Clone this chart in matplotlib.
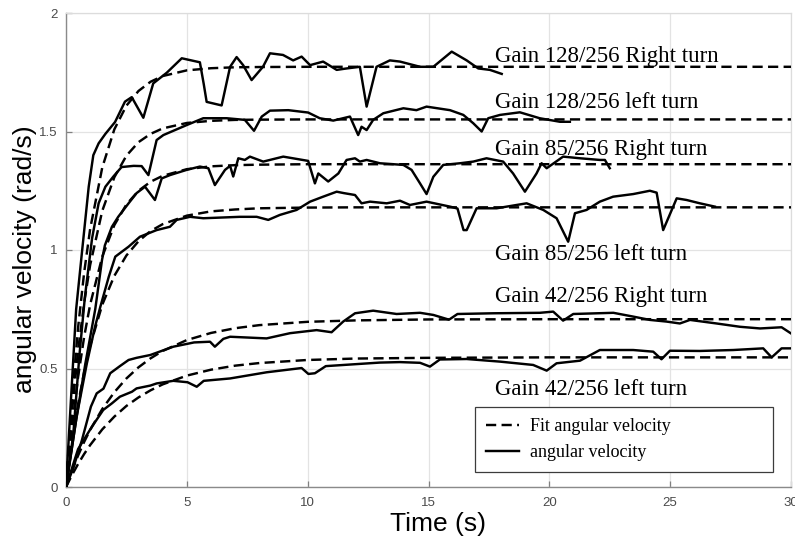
import matplotlib
matplotlib.use("Agg")
import matplotlib.pyplot as plt
from matplotlib.lines import Line2D

# ---- measured angular velocity (time in s, velocity in rad/s) ----
t_128r = [0, 0.2, 0.42, 0.66, 0.94, 1.13, 1.35, 1.63, 2.03, 2.44, 2.72, 3.2, 3.61, 4.17,
          4.79, 5.54, 5.7, 5.82, 6.44, 6.79, 7.06, 7.33, 7.68, 8.15, 8.44, 8.98, 9.4, 9.75,
          10.1, 10.64, 11.2, 11.61, 12.16, 12.44, 12.85, 13.4, 13.82, 14.65, 15.2, 15.96,
          16.58, 17.06, 17.54, 18.03]
w_128r = [0, 0.36, 0.75, 0.99, 1.267, 1.40, 1.45, 1.49, 1.54, 1.626, 1.645, 1.558, 1.703,
          1.748, 1.809, 1.792, 1.70, 1.625, 1.61, 1.773, 1.814, 1.78, 1.717, 1.773, 1.83,
          1.823, 1.80, 1.816, 1.78, 1.795, 1.76, 1.766, 1.773, 1.605, 1.773, 1.80, 1.795,
          1.773, 1.773, 1.837, 1.80, 1.766, 1.76, 1.743]

t_128l = [0, 0.3, 0.55, 0.78, 1.08, 1.35, 1.63, 1.96, 2.3, 2.8, 3.13, 3.41, 3.75, 4.03,
          4.99, 5.68, 6.65, 7.4, 7.78, 8.1, 8.44, 9.2, 10.02, 10.5, 11.06, 11.75, 12.09,
          12.23, 12.44, 12.71, 13.13, 13.96, 14.5, 14.92, 15.89, 16.44, 16.85, 17.2, 17.47,
          17.96, 18.78, 19.6, 20.44, 20.85]
w_128l = [0, 0.22, 0.55, 0.80, 1.05, 1.197, 1.267, 1.31, 1.35, 1.355, 1.354, 1.316, 1.464,
          1.485, 1.527, 1.556, 1.556, 1.549, 1.503, 1.563, 1.588, 1.59, 1.58, 1.556, 1.546,
          1.563, 1.485, 1.52, 1.506, 1.549, 1.577, 1.598, 1.59, 1.605, 1.59, 1.57, 1.535,
          1.50, 1.556, 1.57, 1.581, 1.556, 1.541, 1.541]

t_85r = [0, 0.4, 0.8, 1.21, 1.49, 1.61, 1.9, 2.16, 2.59, 2.92, 3.27, 3.68, 3.96, 4.3, 4.99,
         5.54, 5.89, 6.16, 6.58, 6.79, 6.92, 7.13, 7.4, 7.61, 8.16, 8.99, 10.02, 10.3, 10.44,
         10.85, 11.27, 11.61, 11.96, 12.16, 12.44, 12.99, 13.96, 14.3, 14.65, 14.92, 15.2,
         15.61, 16.3, 16.85, 17.4, 18.09, 18.5, 18.99, 19.47, 19.68, 19.89, 20.57, 21.27,
         22.09, 22.3, 22.5]
w_85r = [0, 0.27, 0.52, 0.75, 0.958, 1.02, 1.098, 1.14, 1.197, 1.24, 1.267, 1.211, 1.302,
         1.316, 1.338, 1.352, 1.345, 1.274, 1.338, 1.355, 1.31, 1.387, 1.38, 1.394, 1.373,
         1.394, 1.376, 1.281, 1.323, 1.289, 1.323, 1.38, 1.387, 1.373, 1.38, 1.366, 1.359,
         1.338, 1.281, 1.236, 1.309, 1.359, 1.366, 1.373, 1.387, 1.373, 1.323, 1.246, 1.323,
         1.366, 1.345, 1.394, 1.387, 1.38, 1.38, 1.345]

t_85l = [0, 0.44, 0.86, 1.2, 1.42, 1.77, 2.04, 2.59, 3.06, 3.75, 4.3, 4.58, 5.13, 5.68, 7.2,
         7.89, 8.37, 8.85, 9.54, 10.1, 10.64, 11.2, 11.5, 11.96, 12.23, 12.58, 13.27, 13.82,
         14.23, 14.92, 15.89, 16.2, 16.45, 16.58, 16.99, 17.82, 19.06, 19.75, 20.3, 20.78,
         21.06, 21.54, 22.09, 22.64, 23.47, 24.16, 24.44, 24.71, 25.27, 25.68, 26.23, 26.85]
w_85l = [0, 0.297, 0.52, 0.676, 0.76, 0.887, 0.972, 1.014, 1.056, 1.084, 1.098, 1.127, 1.14,
         1.134, 1.14, 1.14, 1.127, 1.148, 1.169, 1.204, 1.225, 1.246, 1.24, 1.232, 1.197,
         1.204, 1.197, 1.208, 1.19, 1.204, 1.183, 1.175, 1.084, 1.084, 1.176, 1.176, 1.197,
         1.169, 1.134, 1.035, 1.155, 1.169, 1.204, 1.225, 1.236, 1.25, 1.242, 1.084, 1.218,
         1.211, 1.197, 1.183]

t_42r = [0, 0.3, 0.66, 1.03, 1.27, 1.55, 1.83, 2.23, 2.59, 2.92, 3.49, 4.44, 5.3, 5.96, 6.16,
         6.51, 6.79, 8.3, 9.27, 10.37, 10.99, 11.47, 11.96, 12.71, 13.68, 14.65, 15.2, 15.85,
         16.2, 17.68, 19.61, 20.16, 20.57, 20.99, 22.65, 23.47, 24.16, 24.85, 25.4, 25.82,
         26.92, 27.89, 28.72, 29.61, 30]
w_42r = [0, 0.08, 0.198, 0.339, 0.395, 0.415, 0.48, 0.51, 0.536, 0.545, 0.557, 0.592, 0.61,
         0.613, 0.592, 0.625, 0.634, 0.627, 0.649, 0.662, 0.653, 0.698, 0.733, 0.744, 0.73,
         0.735, 0.726, 0.706, 0.73, 0.733, 0.735, 0.74, 0.702, 0.73, 0.735, 0.719, 0.705,
         0.698, 0.69, 0.705, 0.69, 0.676, 0.669, 0.674, 0.648]

t_42l = [0, 0.5, 1.07, 1.54, 1.9, 2.23, 2.73, 2.92, 3.49, 3.75, 4.44, 5.03, 5.41, 5.7, 6.79,
         8.3, 9.75, 10.03, 10.3, 10.75, 12.99, 13.82, 14.65, 15.06, 15.47, 16.58, 17.96,
         19.33, 19.89, 20.3, 21.27, 22.09, 23.47, 24.3, 24.64, 24.99, 26.23, 27.61, 28.85,
         29.2, 29.61, 30]
w_42l = [0, 0.16, 0.254, 0.325, 0.353, 0.381, 0.402, 0.416, 0.428, 0.437, 0.448, 0.442,
         0.423, 0.448, 0.458, 0.484, 0.502, 0.477, 0.48, 0.51, 0.525, 0.527, 0.524, 0.508,
         0.538, 0.54, 0.529, 0.515, 0.491, 0.522, 0.533, 0.578, 0.578, 0.571, 0.539, 0.575,
         0.574, 0.578, 0.585, 0.547, 0.585, 0.585]

# ---- fitted first-order responses ----
t_fit = [0, 0.25, 0.5, 0.75, 1, 1.5, 2, 2.5, 3, 3.5, 4, 5, 6, 7, 8, 10, 12, 15, 20, 25, 30]
fit_128r = [0, 0.376, 0.672, 0.904, 1.089, 1.348, 1.509, 1.609, 1.671, 1.710, 1.734, 1.758,
            1.767, 1.771, 1.772, 1.773, 1.773, 1.773, 1.773, 1.773, 1.773]
fit_128l = [0, 0.321, 0.575, 0.776, 0.937, 1.165, 1.307, 1.398, 1.455, 1.490, 1.513, 1.536,
            1.545, 1.549, 1.550, 1.551, 1.551, 1.551, 1.551, 1.551, 1.551]
fit_85r = [0, 0.256, 0.464, 0.633, 0.770, 0.972, 1.105, 1.192, 1.250, 1.288, 1.313, 1.341,
           1.353, 1.358, 1.360, 1.362, 1.362, 1.362, 1.362, 1.362, 1.362]
fit_85l = [0, 0.190, 0.350, 0.484, 0.596, 0.769, 0.891, 0.977, 1.037, 1.080, 1.109, 1.145,
           1.163, 1.171, 1.176, 1.179, 1.180, 1.180, 1.180, 1.180, 1.180]
fit_42r = [0, 0.070, 0.133, 0.190, 0.241, 0.329, 0.400, 0.458, 0.505, 0.543, 0.574, 0.620,
           0.650, 0.670, 0.683, 0.697, 0.703, 0.707, 0.708, 0.708, 0.708]
fit_42l = [0, 0.051, 0.097, 0.139, 0.177, 0.243, 0.297, 0.342, 0.378, 0.408, 0.433, 0.470,
           0.495, 0.512, 0.523, 0.536, 0.542, 0.545, 0.547, 0.547, 0.547]

# ---- curve labels: text, x, baseline y ----
label_texts = ["Gain 128/256 Right turn", "Gain 128/256 left turn", "Gain 85/256 Right turn",
               "Gain 85/256 left turn", "Gain 42/256 Right turn", "Gain 42/256 left turn"]
label_x = [17.75, 17.75, 17.75, 17.75, 17.75, 17.75]
label_y = [1.795, 1.598, 1.401, 0.958, 0.782, 0.388]

x_ticks = [0, 5, 10, 15, 20, 25, 30]
y_ticks = [0, 0.5, 1, 1.5, 2]
y_tick_labels = ["0", "0.5", "1", "1.5", "2"]

SANS = "Liberation Sans"
SERIF = "Liberation Serif"

fig = plt.figure(figsize=(7.95, 5.41), dpi=100)
ax = fig.add_axes([66 / 795, 1 - 487 / 541, 725 / 795, 474 / 541])

lw = 1.75
dash = (4.2, 2.2)
measured = [(t_128r, w_128r), (t_128l, w_128l), (t_85r, w_85r),
            (t_85l, w_85l), (t_42r, w_42r), (t_42l, w_42l)]
fits = [fit_128r, fit_128l, fit_85r, fit_85l, fit_42r, fit_42l]

for f in fits:
    ax.plot(t_fit, f, color="black", lw=lw, dashes=dash, dash_capstyle="butt", zorder=3)
for tt, ww in measured:
    ax.plot(tt, ww, color="black", lw=lw, solid_joinstyle="round", zorder=4)

for s, x, y in zip(label_texts, label_x, label_y):
    ax.text(x, y, s, family=SERIF, fontsize=16.5, ha="left", va="baseline", zorder=5)

ax.set_xlim(0, 30)
ax.set_ylim(0, 2)
ax.set_xticks(x_ticks)
ax.set_xticklabels([str(v) for v in x_ticks])
ax.set_yticks(y_ticks)
ax.set_yticklabels(y_tick_labels)
ax.grid(True, color="#e3e3e3", lw=0.9, zorder=0)
ax.set_axisbelow(True)

for side in ("left", "bottom"):
    ax.spines[side].set_color("#8a8a8a")
    ax.spines[side].set_linewidth(1.0)
for side in ("top", "right"):
    ax.spines[side].set_color("#dcdcdc")
    ax.spines[side].set_linewidth(0.9)

ax.tick_params(axis="both", direction="in", length=4, width=0.9, color="#808080",
               labelcolor="#4a4a4a", labelsize=9.5)
ax.tick_params(axis="x", pad=7)
ax.tick_params(axis="y", pad=6)
for lab in ax.get_xticklabels() + ax.get_yticklabels():
    lab.set_family(SANS)

ax.set_xlabel("Time (s)", family=SANS, fontsize=19, color="black")
ax.xaxis.set_label_coords((438 - 66) / 725, -0.052)
ax.set_ylabel("angular velocity (rad/s)", family=SANS, fontsize=19, color="black")
ax.yaxis.set_label_coords(-0.040, 0.481)

handles = [Line2D([], [], color="black", lw=lw, dashes=dash, dash_capstyle="butt"),
           Line2D([], [], color="black", lw=lw)]
leg = ax.legend(handles, ["Fit angular velocity", "angular velocity"],
                loc="lower left", bbox_to_anchor=(0.564, 0.032, 0.411, 0.137), mode="expand",
                prop={"family": SERIF, "size": 13}, fancybox=False, framealpha=1,
                edgecolor="#3c3c3c", borderpad=0.6, labelspacing=0.5,
                handlelength=1.85, handletextpad=0.6, borderaxespad=0)
leg.get_frame().set_linewidth(0.9)
leg.set_zorder(6)

fig.savefig("out.png", dpi=100)
